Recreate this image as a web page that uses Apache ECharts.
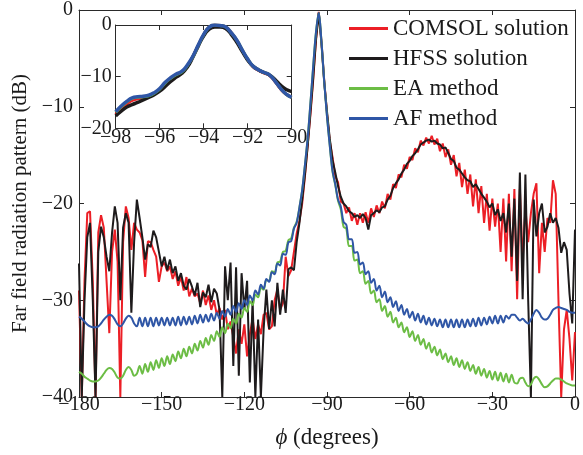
<!DOCTYPE html>
<html>
<head>
<meta charset="utf-8">
<script src="https://cdn.jsdelivr.net/npm/echarts@6/dist/echarts.min.js"></script>
<style>html,body{margin:0;padding:0;background:#fff}#c{width:583px;height:455px}</style>
</head>
<body>
<div id="c"></div>
<script>
// ---- sample grid (degrees) ----
const phi = [];
for (let v = -180; v <= 0; v++) phi.push(v);
const phiInset = [];
for (let v = -98; v <= -90.001 + 0.01; v += 0.25) phiInset.push(Math.round(v * 100) / 100);

const xTicks = [-180, -150, -120, -90, -60, -30, 0];
const yTicks = [-40, -30, -20, -10, 0];
const xTicksInset = [-98, -96, -94, -92, -90];
const yTicksInset = [-20, -10, 0];
const seriesNames = ['COMSOL solution', 'HFSS solution', 'EA method', 'AF method'];

// ---- values, phi = -180 ... 0 step 1 ----
const comsol = [
 -29.0,-40.0,-28.0,-21.0,-20.8,-28.0,-40.0,-23.0,-21.2,-22.5,
 -28.0,-33.4,-25.0,-22.7,-26.0,-40.0,-24.0,-20.3,-21.5,-24.8,
 -22.0,-22.7,-23.0,-23.8,-27.6,-23.9,-24.0,-24.8,-25.5,-28.1,
 -26.5,-26.1,-27.0,-26.5,-27.8,-27.0,-28.5,-27.6,-29.0,-27.6,
 -29.6,-28.8,-29.6,-29.3,-30.3,-29.0,-30.5,-29.5,-31.0,-30.0,
 -31.5,-30.8,-32.0,-31.0,-33.0,-32.2,-33.8,-35.5,-33.0,-34.5,
 -32.5,-35.8,-33.5,-31.9,-34.0,-32.5,-33.5,-31.5,-31.3,-33.0,
 -32.7,-30.0,-28.9,-31.0,-30.3,-25.5,-27.5,-26.9,-25.0,-23.1,
 -21.8,-20.0,-17.2,-14.0,-10.8,-7.2,-3.2,-0.2,-3.3,-7.3,
 -10.7,-13.5,-15.2,-17.2,-17.8,-19.8,-20.0,-21.0,-20.4,-21.8,
 -21.0,-22.2,-21.0,-22.0,-20.9,-22.0,-20.5,-21.4,-20.2,-21.0,
 -19.8,-20.5,-19.0,-19.6,-18.0,-18.4,-17.0,-17.3,-16.0,-16.4,
 -15.2,-15.5,-14.3,-14.7,-13.5,-14.0,-13.2,-13.8,-13.0,-13.9,
 -13.3,-14.6,-13.8,-15.2,-14.4,-16.0,-15.0,-17.2,-15.8,-18.3,
 -16.5,-19.0,-17.0,-20.3,-17.5,-21.0,-18.2,-22.0,-19.0,-22.8,
 -19.5,-22.4,-20.0,-25.0,-19.5,-26.0,-19.0,-27.0,-18.5,-29.9,
 -18.5,-26.0,-20.5,-24.0,-21.0,-19.0,-17.9,-27.2,-22.0,-25.0,
 -21.5,-22.0,-17.6,-19.0,-30.0,-40.0,-33.0,-31.0,-34.0,-38.3,
 -33.3
];
const hfss = [
 -26.2,-40.0,-30.0,-23.5,-22.0,-30.0,-40.0,-25.0,-22.4,-23.5,
 -25.5,-27.0,-23.0,-20.3,-22.0,-30.0,-22.5,-21.0,-22.0,-31.3,
 -24.0,-19.6,-21.5,-23.5,-25.8,-24.2,-24.5,-22.8,-23.5,-25.0,
 -26.5,-25.5,-26.9,-25.8,-27.2,-26.5,-28.0,-27.2,-28.5,-28.9,
 -27.8,-28.6,-29.5,-28.2,-30.7,-29.2,-29.7,-28.4,-30.2,-28.8,
 -29.3,-31.0,-40.0,-26.5,-30.0,-26.1,-36.8,-26.6,-37.8,-27.2,
 -31.0,-28.0,-38.5,-30.0,-40.0,-32.0,-40.0,-33.0,-28.9,-33.0,
 -30.0,-32.7,-28.2,-31.5,-28.9,-31.3,-26.8,-26.6,-26.9,-24.0,
 -22.0,-19.6,-17.0,-14.0,-10.5,-7.0,-3.0,-0.3,-3.5,-7.5,
 -10.5,-13.3,-15.5,-16.8,-18.2,-19.3,-20.0,-20.3,-20.8,-21.0,
 -21.4,-21.2,-21.5,-21.1,-21.5,-22.7,-21.2,-21.0,-20.7,-20.9,
 -20.4,-20.3,-19.6,-19.2,-18.4,-17.9,-17.5,-16.9,-16.5,-15.9,
 -15.6,-15.1,-14.8,-14.4,-13.9,-13.7,-13.5,-13.4,-13.6,-13.5,
 -13.8,-13.9,-14.3,-14.2,-14.8,-15.4,-15.6,-16.3,-16.5,-16.9,
 -17.3,-17.6,-17.7,-18.3,-18.0,-18.5,-19.0,-19.4,-19.8,-20.4,
 -20.0,-21.2,-20.6,-21.8,-21.0,-23.0,-20.0,-25.5,-19.5,-28.0,
 -16.8,-29.9,-17.0,-29.9,-40.0,-19.6,-23.4,-21.0,-20.0,-23.0,
 -22.4,-21.0,-22.0,-21.5,-22.5,-25.1,-24.0,-24.8,-29.3,-32.4,
 -22.7
];
const eaMethod = [
 -37.4,-37.6,-37.9,-38.1,-38.3,-38.4,-38.4,-38.3,-38.0,-37.6,
 -37.2,-37.0,-37.1,-37.5,-38.0,-38.1,-37.8,-37.2,-36.9,-37.2,
 -37.8,-37.6,-36.8,-37.6,-36.6,-37.4,-36.4,-37.2,-36.2,-37.0,
 -36.0,-36.8,-35.8,-36.6,-35.6,-36.3,-35.3,-36.0,-35.0,-35.8,
 -34.8,-35.5,-34.5,-35.2,-34.2,-34.9,-33.9,-34.6,-33.6,-34.2,
 -33.2,-33.8,-32.8,-33.4,-32.4,-32.9,-31.9,-32.4,-31.4,-31.8,
 -30.8,-31.2,-30.1,-30.5,-29.4,-29.7,-28.7,-28.9,-27.9,-28.0,
 -27.0,-27.1,-26.1,-26.0,-25.0,-24.9,-23.8,-23.6,-22.5,-21.9,
 -20.4,-18.6,-16.0,-13.2,-9.6,-5.8,-2.3,-0.3,-3.3,-7.4,
 -11.0,-14.0,-16.7,-18.1,-19.7,-20.6,-22.4,-22.6,-24.4,-24.4,
 -25.9,-25.8,-27.2,-27.0,-28.3,-28.0,-29.3,-29.0,-30.2,-29.9,
 -31.1,-30.6,-31.7,-31.2,-32.3,-31.8,-32.8,-32.3,-33.3,-32.8,
 -33.8,-33.2,-34.2,-33.6,-34.6,-34.0,-35.0,-34.4,-35.4,-34.8,
 -35.7,-35.1,-36.1,-35.5,-36.4,-35.8,-36.7,-36.0,-36.9,-36.2,
 -37.1,-36.4,-37.3,-36.7,-37.6,-36.9,-37.8,-37.1,-38.0,-37.3,
 -38.2,-37.4,-38.3,-37.5,-38.4,-37.6,-38.5,-37.7,-38.5,-38.6,
 -38.1,-38.0,-38.5,-38.9,-38.7,-38.1,-37.9,-38.2,-38.7,-39.0,
 -38.9,-38.6,-38.3,-38.1,-38.1,-38.2,-38.4,-38.6,-38.7,-38.8,
 -38.8
];
const afMethod = [
 -31.7,-31.9,-32.2,-32.5,-32.7,-32.8,-32.8,-32.7,-32.4,-32.0,
 -31.7,-31.5,-31.6,-32.0,-32.5,-32.7,-32.4,-31.9,-31.6,-31.8,
 -32.4,-32.7,-31.8,-32.7,-31.8,-32.7,-31.8,-32.7,-31.8,-32.6,
 -31.8,-32.6,-31.8,-32.6,-31.8,-32.6,-31.7,-32.6,-31.7,-32.5,
 -31.7,-32.5,-31.6,-32.4,-31.5,-32.3,-31.5,-32.2,-31.4,-32.1,
 -31.3,-31.9,-31.1,-31.7,-30.9,-31.5,-30.6,-31.2,-30.3,-30.9,
 -30.0,-30.5,-29.5,-30.0,-29.0,-29.4,-28.4,-28.8,-27.8,-28.1,
 -27.1,-27.3,-26.2,-26.4,-25.2,-25.3,-24.0,-23.9,-22.6,-22.0,
 -20.4,-18.6,-16.0,-13.2,-9.6,-5.8,-2.3,-0.3,-3.3,-7.4,
 -11.0,-14.0,-16.6,-18.0,-19.6,-20.3,-21.9,-22.2,-23.7,-23.7,
 -25.1,-25.0,-26.3,-26.1,-27.3,-27.0,-28.2,-27.8,-29.0,-28.5,
 -29.7,-29.1,-30.2,-29.7,-30.7,-30.1,-31.1,-30.5,-31.5,-30.9,
 -31.8,-31.2,-32.1,-31.4,-32.3,-31.6,-32.5,-31.8,-32.6,-31.9,
 -32.7,-32.0,-32.8,-32.0,-32.8,-32.0,-32.8,-32.0,-32.8,-32.0,
 -32.8,-32.0,-32.7,-31.9,-32.7,-31.8,-32.6,-31.8,-32.5,-31.7,
 -32.4,-31.6,-32.4,-31.6,-32.3,-31.6,-31.9,-31.5,-31.5,-31.8,
 -32.1,-31.9,-32.2,-32.4,-32.0,-31.4,-31.0,-31.3,-31.8,-32.0,
 -31.9,-31.5,-31.0,-30.8,-30.7,-30.8,-30.9,-31.0,-31.2,-31.3,
 -31.3
];

// ---- inset values, phi = -98 ... -90 step 0.25 ----
const comsolInset = [-17.3,-16.2,-15.3,-14.6,-14.3,-14.1,-13.8,-13.3,-12.5,-11.3,-10.4,-9.7,-9.2,-8.0,-6.2,-4.0,-1.9,-0.4,0.0,-0.1,-0.4,-1.5,-3.0,-4.9,-6.7,-8.1,-8.8,-9.3,-9.8,-11.0,-12.4,-13.4,-14.0];
const hfssInset   = [-17.6,-16.7,-15.9,-15.4,-15.0,-14.5,-14.0,-13.5,-12.8,-11.9,-10.9,-10.1,-9.4,-8.2,-6.3,-4.1,-2.1,-0.8,-0.4,-0.4,-0.7,-1.8,-3.3,-5.1,-6.8,-8.0,-8.7,-9.2,-9.7,-10.6,-11.7,-12.5,-12.9];
const eaInset     = [-16.9,-15.8,-14.9,-14.2,-14.0,-13.9,-13.7,-13.2,-12.4,-11.2,-10.3,-9.6,-9.1,-7.9,-6.2,-4.0,-1.9,-0.4,0.0,-0.1,-0.4,-1.5,-2.9,-4.8,-6.6,-8.0,-8.7,-9.2,-9.7,-10.9,-12.3,-13.4,-14.0];
const afInset     = [-16.8,-15.7,-14.8,-14.1,-13.9,-13.8,-13.6,-13.1,-12.3,-11.1,-10.2,-9.5,-9.0,-7.8,-6.1,-3.9,-1.8,-0.4,0.0,-0.1,-0.4,-1.5,-2.9,-4.8,-6.6,-8.0,-8.7,-9.2,-9.7,-10.9,-12.3,-13.4,-14.0];

// ---- styling ----
const colors = ['#ec1f26', '#1e1b1c', '#6cbd45', '#2f56a6'];
const FONT = '"Liberation Serif", "Times New Roman", serif';
const TXT = '#1a1a1a';
const AX = '#2a2a2a';
const minus = v => String(v).replace('-', '\u2212');
const pairs = (xs, ys) => xs.map((x, i) => [x, ys[i]]);

function axisBase(extra) {
  return Object.assign({
    type: 'value',
    splitLine: { show: false },
    axisLine: { show: true, onZero: false, lineStyle: { color: AX, width: 1 } },
    axisTick: { show: true, inside: true, length: 5, lineStyle: { color: AX, width: 1 } },
    axisLabel: { show: true, fontFamily: FONT, fontSize: 20, color: TXT, formatter: minus }
  }, extra);
}

const chart = echarts.init(document.getElementById('c'), null, { renderer: 'canvas' });
const option = {
  animation: false,
  backgroundColor: '#fff',
  grid: [
    { left: 79, right: 5, top: 10, bottom: 58 },
    { left: 115.7, top: 25, width: 176, height: 103.3, show: true, backgroundColor: '#fff', borderWidth: 0, z: 5 }
  ],
  legend: {
    data: seriesNames,
    orient: 'vertical',
    left: 349, top: 17, padding: 0,
    icon: 'rect', itemWidth: 39, itemHeight: 3,
    itemGap: 7,
    textStyle: { fontFamily: FONT, fontSize: 23, lineHeight: 23, color: TXT }
  },
  xAxis: [
    axisBase({ gridIndex: 0, min: xTicks[0], max: xTicks[xTicks.length - 1], interval: 30, position: 'bottom',
      axisLabel: { fontFamily: FONT, fontSize: 20, color: TXT, margin: -2, formatter: minus },
      name: '{i|\u03d5} (degrees)', nameLocation: 'middle', nameGap: 29,
      nameTextStyle: { fontFamily: FONT, fontSize: 23, color: TXT,
        rich: { i: { fontFamily: FONT, fontSize: 23, fontStyle: 'italic', color: TXT } } } }),
    axisBase({ gridIndex: 0, min: -180, max: 0, interval: 30, position: 'top', axisLabel: { show: false } }),
    axisBase({ gridIndex: 1, min: xTicksInset[0], max: xTicksInset[xTicksInset.length - 1], interval: 2, position: 'bottom', z: 6,
      axisLabel: { fontFamily: FONT, fontSize: 20, color: TXT, margin: -1, formatter: minus } }),
    axisBase({ gridIndex: 1, min: -98, max: -90, interval: 2, position: 'top', z: 6, axisLabel: { show: false } })
  ],
  yAxis: [
    axisBase({ gridIndex: 0, min: yTicks[0], max: yTicks[yTicks.length - 1], interval: 10, position: 'left',
      axisLabel: { fontFamily: FONT, fontSize: 20, color: TXT, margin: 6, formatter: minus },
      name: 'Far field radiation pattern (dB)', nameLocation: 'middle', nameGap: 48,
      nameTextStyle: { fontFamily: FONT, fontSize: 21, color: TXT } }),
    axisBase({ gridIndex: 0, min: -40, max: 0, interval: 10, position: 'right', axisLabel: { show: false } }),
    axisBase({ gridIndex: 1, min: yTicksInset[0], max: yTicksInset[yTicksInset.length - 1], interval: 10, position: 'left', z: 6,
      axisLabel: { fontFamily: FONT, fontSize: 20, color: TXT, margin: 4, formatter: minus } }),
    axisBase({ gridIndex: 1, min: -20, max: 0, interval: 10, position: 'right', z: 6, axisLabel: { show: false } })
  ],
  series: [
    { name: seriesNames[0], type: 'line', xAxisIndex: 0, yAxisIndex: 0, data: pairs(phi, comsol), symbol: 'none', z: 2,
      lineStyle: { color: colors[0], width: 2 }, itemStyle: { color: colors[0] } },
    { name: seriesNames[1], type: 'line', xAxisIndex: 0, yAxisIndex: 0, data: pairs(phi, hfss), symbol: 'none', z: 3,
      lineStyle: { color: colors[1], width: 2 }, itemStyle: { color: colors[1] } },
    { name: seriesNames[2], type: 'line', xAxisIndex: 0, yAxisIndex: 0, data: pairs(phi, eaMethod), symbol: 'none', z: 4, smooth: 0.35,
      lineStyle: { color: colors[2], width: 2 }, itemStyle: { color: colors[2] } },
    { name: seriesNames[3], type: 'line', xAxisIndex: 0, yAxisIndex: 0, data: pairs(phi, afMethod), symbol: 'none', z: 4, smooth: 0.35,
      lineStyle: { color: colors[3], width: 2 }, itemStyle: { color: colors[3] } },

    { name: seriesNames[0], type: 'line', xAxisIndex: 2, yAxisIndex: 2, data: pairs(phiInset, comsolInset), symbol: 'none', z: 7, smooth: true,
      lineStyle: { color: colors[0], width: 3 }, itemStyle: { color: colors[0] } },
    { name: seriesNames[1], type: 'line', xAxisIndex: 2, yAxisIndex: 2, data: pairs(phiInset, hfssInset), symbol: 'none', z: 7, smooth: true,
      lineStyle: { color: colors[1], width: 3.5 }, itemStyle: { color: colors[1] } },
    { name: seriesNames[2], type: 'line', xAxisIndex: 2, yAxisIndex: 2, data: pairs(phiInset, eaInset), symbol: 'none', z: 7, smooth: true,
      lineStyle: { color: colors[2], width: 3 }, itemStyle: { color: colors[2] } },
    { name: seriesNames[3], type: 'line', xAxisIndex: 2, yAxisIndex: 2, data: pairs(phiInset, afInset), symbol: 'none', z: 7, smooth: true,
      lineStyle: { color: colors[3], width: 3.5 }, itemStyle: { color: colors[3] } }
  ]
};
chart.setOption(option);
</script>
</body>
</html>
